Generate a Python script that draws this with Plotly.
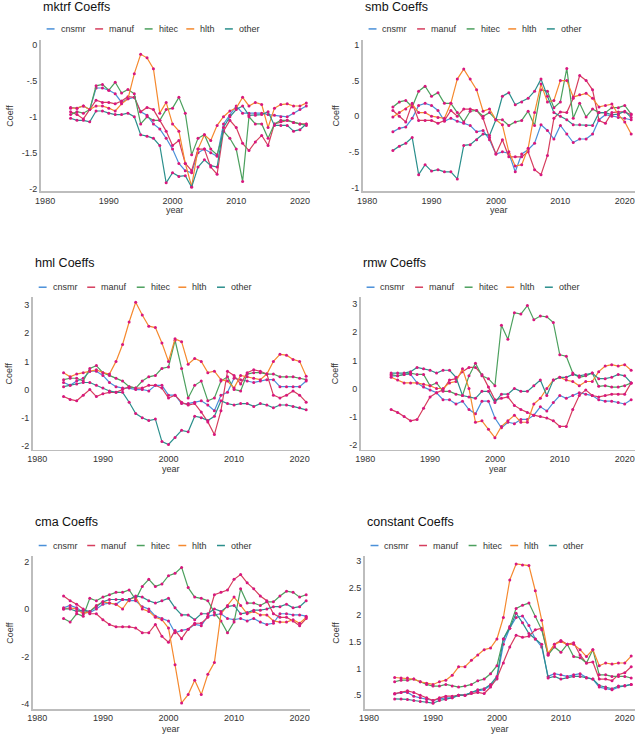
import plotly.graph_objects as go

# ---------------- data ----------------
years = [1984, 1985, 1986, 1987, 1988, 1989, 1990, 1991, 1992, 1993,
         1994, 1995, 1996, 1997, 1998, 1999, 2000, 2001, 2002, 2003,
         2004, 2005, 2006, 2007, 2008, 2009, 2010, 2011, 2012, 2013,
         2014, 2015, 2016, 2017, 2018, 2019, 2020, 2021]
series_names = ["cnsmr", "manuf", "hitec", "hlth", "other"]

mktrf_cnsmr = [-0.87, -0.88, -0.85, -0.90, -0.60, -0.60, -0.63, -0.68, -0.80, -0.75,
               -0.73, -0.93, -0.98, -1.10, -1.17, -1.30, -1.45, -1.65, -1.75, -1.78,
               -1.50, -1.45, -1.50, -1.55, -1.10, -0.98, -0.85, -0.95, -0.95, -0.95,
               -0.95, -0.97, -0.98, -1.00, -1.00, -0.95, -0.90, -0.85]
mktrf_manuf = [-0.93, -0.97, -1.03, -0.90, -0.77, -0.80, -0.80, -0.82, -0.78, -0.72,
               -0.73, -0.93, -0.87, -0.90, -1.05, -1.20, -1.40, -1.33, -1.65, -1.75,
               -1.45, -1.45, -1.70, -1.80, -1.20, -1.05, -1.15, -1.37, -1.47, -1.35,
               -1.26, -1.40, -1.10, -1.07, -1.05, -1.08, -1.10, -1.10]
mktrf_hitec = [-0.97, -0.93, -0.95, -0.90, -0.57, -0.55, -0.63, -0.52, -0.67, -0.62,
               -0.68, -1.10, -1.00, -1.05, -1.05, -0.90, -0.88, -0.73, -0.95, -1.53,
               -1.30, -1.25, -1.45, -1.53, -1.20, -1.30, -1.45, -1.90, -1.00, -1.10,
               -1.10, -1.30, -1.10, -1.05, -1.05, -1.08, -1.10, -1.12]
mktrf_hlth = [-0.88, -0.88, -0.85, -0.90, -0.85, -0.85, -0.88, -0.92, -0.82, -0.75,
              -0.40, -0.13, -0.18, -0.33, -0.95, -0.80, -1.10, -1.20, -1.65, -1.97,
              -1.45, -1.25, -1.33, -1.12, -1.00, -0.92, -0.88, -0.73, -0.85, -0.80,
              -0.83, -1.15, -0.88, -0.83, -0.82, -0.85, -0.85, -0.81]
mktrf_other = [-1.02, -1.05, -1.05, -1.07, -0.92, -0.92, -0.95, -0.97, -0.97, -0.95,
               -1.00, -1.25, -1.27, -1.30, -1.40, -1.92, -1.78, -1.83, -1.82, -1.98,
               -1.70, -1.60, -1.68, -1.70, -1.15, -1.00, -0.90, -0.85, -0.98, -0.98,
               -0.97, -0.93, -1.12, -1.12, -1.12, -1.20, -1.18, -1.10]

smb_cnsmr = [-0.22, -0.17, -0.15, -0.03, 0.15, 0.18, 0.15, 0.08, -0.07, -0.03,
             -0.07, -0.10, -0.13, -0.22, -0.20, -0.33, -0.53, -0.50, -0.52, -0.78,
             -0.53, -0.47, -0.38, -0.12, -0.20, -0.32, -0.13, -0.25, -0.37, -0.32,
             -0.32, -0.25, -0.05, 0.02, 0.00, -0.02, -0.03, -0.05]
smb_manuf = [0.08, 0.00, -0.08, 0.18, -0.06, -0.06, -0.06, -0.10, -0.06, 0.08,
             0.00, 0.10, 0.10, 0.08, -0.03, -0.30, -0.53, -0.33, -0.57, -0.57,
             -0.57, -0.50, -0.75, -0.82, -0.55, -0.03, 0.06, 0.05, 0.25, 0.57,
             0.50, 0.37, -0.06, -0.10, 0.05, 0.06, 0.06, 0.02]
smb_hitec = [0.13, 0.20, 0.22, 0.13, 0.35, 0.42, 0.28, 0.33, 0.18, 0.18,
             0.05, -0.08, 0.07, 0.08, 0.00, 0.05, -0.05, -0.05, -0.13, -0.08,
             -0.06, 0.07, -0.13, 0.37, 0.35, 0.12, 0.20, 0.67, -0.03, 0.18,
             -0.01, 0.10, 0.05, 0.05, 0.12, 0.12, 0.15, 0.03]
smb_hlth = [-0.01, 0.05, 0.10, 0.17, 0.05, 0.05, 0.00, -0.02, -0.03, 0.18,
            0.52, 0.66, 0.52, 0.37, 0.07, 0.10, -0.05, -0.12, -0.50, -0.70,
            -0.68, -0.45, 0.05, 0.45, 0.20, 0.22, 0.50, 0.50, 0.27, 0.30,
            0.32, 0.25, 0.13, 0.15, 0.17, 0.02, -0.08, -0.25]
smb_other = [-0.48, -0.42, -0.38, -0.30, -0.82, -0.68, -0.77, -0.75, -0.78, -0.78,
             -0.88, -0.41, -0.40, -0.33, -0.25, -0.27, -0.05, 0.28, 0.33, 0.16,
             0.20, 0.25, 0.35, 0.52, 0.28, 0.05, 0.00, -0.05, -0.12, -0.12,
             -0.13, -0.13, 0.05, 0.05, 0.02, 0.03, 0.07, -0.02]

hml_cnsmr = [0.25, 0.15, 0.30, 0.40, 0.65, 0.65, 0.50, 0.25, 0.10, 0.05,
             0.05, 0.00, 0.00, -0.05, 0.15, 0.15, -0.20, -0.20, -0.50, -0.50,
             -0.45, -0.40, -0.55, -0.75, -0.20, -0.10, 0.40, 0.35, 0.30, 0.25,
             0.30, 0.35, 0.35, 0.10, 0.10, 0.10, 0.10, 0.30]
hml_manuf = [-0.25, -0.35, -0.40, -0.20, 0.00, -0.25, -0.15, -0.10, -0.10, 0.00,
             0.10, 0.05, 0.05, 0.15, 0.15, 0.05, -0.30, -0.20, -0.45, -0.55,
             -0.50, -0.80, -1.15, -1.60, -0.75, 0.65, 0.50, 0.20, 0.60, 0.70,
             0.65, 0.55, -0.20, -0.30, -0.20, -0.05, -0.20, -0.45]
hml_hitec = [0.35, 0.40, 0.40, 0.30, 0.75, 0.85, 0.60, 0.50, 0.40, 0.30,
             0.10, 0.05, 0.30, 0.45, 0.50, 0.75, 0.80, 1.75, 0.75, -0.30,
             0.15, 0.30, -0.40, -0.30, 0.30, 0.45, 0.00, -0.05, 0.55, 0.60,
             0.60, 0.55, 0.55, 0.45, 0.45, 0.45, 0.40, 0.35]
hml_hlth = [0.60, 0.45, 0.55, 0.60, 0.65, 0.70, 0.60, 0.55, 1.00, 1.60,
            2.40, 3.10, 2.65, 2.25, 2.20, 1.65, 1.00, 1.80, 1.70, 0.90,
            1.10, 1.00, 0.60, 0.65, 0.35, 0.30, 0.05, 0.50, 0.45, 0.40,
            0.35, 0.55, 1.00, 1.25, 1.22, 1.07, 1.00, 0.47]
hml_other = [0.10, 0.15, 0.20, 0.25, 0.25, 0.15, 0.05, -0.05, -0.10, -0.10,
             -0.45, -0.85, -1.00, -1.10, -1.05, -1.85, -1.95, -1.70, -1.45, -1.50,
             -0.95, -1.00, -1.10, -0.95, -0.40, -0.50, -0.55, -0.50, -0.50, -0.60,
             -0.50, -0.55, -0.65, -0.55, -0.55, -0.60, -0.65, -0.72]

rmw_cnsmr = [0.45, 0.45, 0.50, 0.50, 0.20, 0.05, -0.05, -0.15, -0.40, -0.40,
             -0.55, -0.45, -0.75, -0.90, -0.45, -0.45, -1.05, -1.40, -1.20, -1.25,
             -1.10, -1.10, -0.95, -0.65, -0.80, -0.50, -0.25, -0.35, -0.25, -0.15,
             -0.20, -0.25, -0.40, -0.45, -0.45, -0.50, -0.55, -0.40]
rmw_manuf = [-0.75, -0.85, -1.00, -1.15, -1.10, -0.70, -0.30, -0.15, -0.05, 0.30,
             0.35, 0.60, 0.75, 0.75, 0.50, 0.05, -0.40, -0.35, -0.30, -0.60,
             -0.75, -0.85, -0.95, -1.00, -1.05, -1.15, -1.35, -1.35, -0.75, -0.25,
             -0.05, -0.25, -0.30, -0.25, -0.20, -0.20, -0.20, 0.20]
rmw_hitec = [0.50, 0.45, 0.50, 0.55, 0.50, 0.50, 0.10, 0.20, -0.10, -0.10,
             -0.20, -0.25, 0.45, 0.90, 0.45, 0.35, 0.10, 2.25, 1.75, 2.70,
             2.65, 2.95, 2.45, 2.58, 2.55, 2.35, 1.20, 1.15, 0.55, 0.40,
             0.45, 0.55, 0.08, 0.10, 0.05, 0.05, 0.10, 0.20]
rmw_hlth = [0.40, 0.30, 0.20, 0.20, 0.20, 0.15, 0.10, 0.00, 0.00, 0.20,
            0.25, 0.70, 0.00, -1.20, -1.15, -1.45, -1.75, -1.35, -1.15, -0.95,
            -1.20, -1.20, -0.55, -0.35, 0.00, 0.30, 0.40, 0.30, 0.25, 0.10,
            0.25, 0.25, 0.60, 0.80, 0.85, 0.80, 0.85, 0.65]
rmw_other = [0.55, 0.55, 0.55, 0.60, 0.75, 0.70, 0.65, 0.55, 0.65, 0.65,
             0.40, -0.25, -0.30, -0.35, -0.10, -0.10, -0.50, -0.20, -0.20, 0.00,
             -0.10, -0.10, 0.10, 0.30, -0.25, 0.30, 0.40, 0.40, 0.50, 0.45,
             0.50, 0.55, 0.35, 0.35, 0.40, 0.50, 0.45, 0.20]

cma_cnsmr = [0.05, 0.15, 0.05, -0.15, -0.15, 0.00, 0.20, 0.25, 0.20, 0.40,
             0.35, 0.35, 0.10, 0.00, -0.30, -0.40, -0.50, -1.00, -0.90, -0.85,
             -0.65, -0.70, -0.30, -0.25, -0.20, -0.40, -0.45, -0.40, -0.50, -0.40,
             -0.55, -0.65, -0.60, -0.20, -0.20, -0.25, -0.25, -0.30]
cma_manuf = [0.55, 0.35, 0.20, 0.00, -0.20, -0.20, -0.45, -0.65, -0.75, -0.75,
             -0.75, -0.80, -1.00, -1.00, -0.65, -1.15, -1.40, -0.90, -1.25, -0.85,
             -0.60, -0.60, -0.35, 0.60, 0.70, 0.80, 1.25, 1.45, 1.10, 0.85,
             0.55, 0.35, -0.20, -0.35, -0.35, -0.50, -0.70, -0.40]
cma_hitec = [-0.40, -0.55, -0.20, -0.30, 0.45, 0.35, 0.50, 0.60, 0.70, 0.70,
             0.80, 0.40, 0.95, 1.25, 0.95, 1.05, 1.40, 1.50, 1.75, 0.90,
             0.50, 0.45, 0.35, -0.15, -0.50, -1.00, -0.55, 0.85, 0.25, 0.25,
             0.15, 0.30, 0.30, 0.55, 0.75, 0.70, 0.50, 0.60]
cma_hlth = [0.00, 0.05, 0.00, -0.20, -0.10, 0.15, 0.30, 0.25, 0.20, 0.00,
            0.40, 0.50, 0.00, -0.10, -0.35, -0.45, -0.80, -2.35, -3.95, -3.60,
            -3.00, -3.60, -2.75, -2.25, -0.20, 0.15, 0.50, 0.15, -0.20, -0.10,
            -0.25, -0.25, -0.50, -0.55, -0.55, -0.45, -0.60, -0.35]
cma_other = [0.00, 0.00, -0.10, -0.05, -0.10, 0.10, 0.30, 0.40, 0.40, 0.40,
             0.40, 0.55, 0.50, 0.35, 0.25, 0.35, 0.45, 0.05, -0.25, -0.25,
             -0.45, -0.20, -0.20, 0.00, -0.10, 0.10, 0.15, -0.20, -0.15, -0.05,
             -0.05, 0.00, 0.10, 0.10, 0.20, 0.05, 0.10, 0.35]

constant_cnsmr = [0.52, 0.55, 0.55, 0.48, 0.45, 0.42, 0.40, 0.43, 0.45, 0.45,
                  0.50, 0.50, 0.55, 0.58, 0.60, 0.68, 0.80, 1.45, 1.75, 1.95,
                  1.98, 1.80, 1.55, 1.40, 0.85, 0.90, 0.88, 0.85, 0.88, 0.90,
                  0.83, 0.80, 0.65, 0.62, 0.60, 0.65, 0.68, 0.70]
constant_manuf = [0.53, 0.55, 0.58, 0.55, 0.50, 0.45, 0.40, 0.45, 0.48, 0.48,
                  0.50, 0.50, 0.53, 0.55, 0.53, 0.65, 0.82, 1.10, 1.40, 1.62,
                  1.58, 1.60, 1.72, 1.75, 1.25, 1.45, 1.52, 1.45, 1.48, 1.25,
                  1.10, 1.12, 0.80, 0.80, 0.77, 0.88, 0.92, 1.03]
constant_hitec = [0.75, 0.78, 0.78, 0.80, 0.75, 0.70, 0.67, 0.67, 0.70, 0.67,
                  0.65, 0.67, 0.70, 0.77, 0.80, 0.90, 1.05, 1.55, 1.78, 2.12,
                  2.18, 2.22, 1.97, 1.72, 1.25, 1.40, 1.30, 1.45, 1.22, 1.20,
                  1.10, 1.35, 0.88, 0.88, 0.85, 0.85, 0.85, 0.82]
constant_hlth = [0.83, 0.82, 0.82, 0.80, 0.75, 0.72, 0.70, 0.75, 0.78, 0.87,
                 1.03, 1.03, 1.15, 1.25, 1.35, 1.38, 1.55, 1.95, 2.65, 2.95,
                 2.93, 2.92, 2.45, 1.90, 1.28, 1.45, 1.50, 1.45, 1.45, 1.35,
                 1.22, 1.35, 1.05, 1.10, 1.08, 1.10, 1.10, 1.23]
constant_other = [0.43, 0.43, 0.42, 0.40, 0.38, 0.37, 0.35, 0.40, 0.42, 0.45,
                  0.50, 0.50, 0.55, 0.60, 0.62, 0.70, 0.85, 1.55, 1.75, 2.03,
                  1.85, 1.65, 1.55, 1.45, 0.82, 0.85, 0.80, 0.83, 0.85, 0.85,
                  0.82, 0.80, 0.68, 0.65, 0.62, 0.67, 0.67, 0.70]

panel_titles = ["mktrf Coeffs", "smb Coeffs", "hml Coeffs",
                "rmw Coeffs", "cma Coeffs", "constant Coeffs"]
x_tickvals = [1980, 1990, 2000, 2010, 2020]
mktrf_tickvals = [0, -0.5, -1, -1.5, -2]
mktrf_ticktext = ["0", "-.5", "-1", "-1.5", "-2"]
smb_tickvals = [1, 0.5, 0, -0.5, -1]
smb_ticktext = ["1", ".5", "0", "-.5", "-1"]
hml_tickvals = [3, 2, 1, 0, -1, -2]
hml_ticktext = ["3", "2", "1", "0", "-1", "-2"]
rmw_tickvals = [3, 2, 1, 0, -1, -2]
rmw_ticktext = ["3", "2", "1", "0", "-1", "-2"]
cma_tickvals = [2, 0, -2, -4]
cma_ticktext = ["2", "0", "-2", "-4"]
constant_tickvals = [3, 2.5, 2, 1.5, 1, 0.5]
constant_ticktext = ["3", "2.5", "2", "1.5", "1", ".5"]

panels = [
    ([mktrf_cnsmr, mktrf_manuf, mktrf_hitec, mktrf_hlth, mktrf_other], mktrf_tickvals, mktrf_ticktext),
    ([smb_cnsmr, smb_manuf, smb_hitec, smb_hlth, smb_other], smb_tickvals, smb_ticktext),
    ([hml_cnsmr, hml_manuf, hml_hitec, hml_hlth, hml_other], hml_tickvals, hml_ticktext),
    ([rmw_cnsmr, rmw_manuf, rmw_hitec, rmw_hlth, rmw_other], rmw_tickvals, rmw_ticktext),
    ([cma_cnsmr, cma_manuf, cma_hitec, cma_hlth, cma_other], cma_tickvals, cma_ticktext),
    ([constant_cnsmr, constant_manuf, constant_hitec, constant_hlth, constant_other],
     constant_tickvals, constant_ticktext),
]

# ---------------- styling / layout ----------------
W, H = 640, 736
FONT = "Liberation Sans, Arial, sans-serif"
line_colors = ["#4A90D9", "#D63E5E", "#4CA05E", "#F5892E", "#2B8F8C"]
marker_color = "#D8177E"
axis_color = "#BDBDBD"
text_color = "#333333"

# plot boxes in pixels: left, right, top, bottom
boxes = [(35, 307, 40, 192), (360, 635, 40, 192),
         (27, 307, 298, 451), (358, 635, 298, 451),
         (27, 307, 558, 711), (362, 635, 558, 711)]
yranges = [[-2.04, 0.07], [-1.056, 1.07], [-2.14, 3.28],
           [-2.18, 3.25], [-4.21, 2.21], [0.24, 3.09]]
xrange_ = [1979.3, 2021.6]
title_y = [7, 7, 264, 264, 523, 523]
legend_y = [29, 29, 288, 288, 547, 547]
year_y = [211, 211, 470, 470, 731, 731]
coeff_x = [4, 333, 4, 333, 4, 333]
legend_offsets = [6, 55, 105, 147, 186]

fig = go.Figure()
annotations = []
shapes = []
layout_axes = {}

def px_x(p):
    return p / W

def px_y(p):
    return 1 - p / H

for i, (series, tv, tt) in enumerate(panels):
    n = i + 1
    xa = "x" if n == 1 else f"x{n}"
    ya = "y" if n == 1 else f"y{n}"
    for k, vals in enumerate(series):
        fig.add_trace(go.Scatter(
            x=years, y=vals, mode="lines+markers", name=series_names[k],
            xaxis=xa, yaxis=ya, showlegend=False,
            line=dict(color=line_colors[k], width=1.2),
            marker=dict(color=marker_color, size=3),
        ))
    l, r, t, b = boxes[i]
    xkey = "xaxis" if n == 1 else f"xaxis{n}"
    ykey = "yaxis" if n == 1 else f"yaxis{n}"
    layout_axes[xkey] = dict(
        domain=[px_x(l), px_x(r)], anchor=ya, range=xrange_,
        showline=True, linecolor=axis_color, linewidth=1.6,
        showgrid=False, zeroline=False, ticks="",
        tickvals=x_tickvals, tickfont=dict(size=9, color=text_color, family=FONT),
    )
    layout_axes[ykey] = dict(
        domain=[px_y(b), px_y(t)], anchor=xa, range=yranges[i],
        showline=True, linecolor=axis_color, linewidth=1.6,
        showgrid=False, zeroline=False, ticks="",
        tickvals=tv, ticktext=tt, tickfont=dict(size=9, color=text_color, family=FONT),
    )
    # panel title
    annotations.append(dict(
        text=panel_titles[i], x=px_x(l), y=px_y(title_y[i]), xref="paper", yref="paper",
        xanchor="left", yanchor="middle", showarrow=False,
        font=dict(size=12.5, color="#111111", family=FONT)))
    # legend
    for k, name in enumerate(series_names):
        x0 = l + legend_offsets[k]
        shapes.append(dict(type="line", xref="paper", yref="paper",
                           x0=px_x(x0), x1=px_x(x0 + 8),
                           y0=px_y(legend_y[i]), y1=px_y(legend_y[i]),
                           line=dict(color=line_colors[k], width=1.5)))
        annotations.append(dict(
            text=name, x=px_x(x0 + 12), y=px_y(legend_y[i]), xref="paper", yref="paper",
            xanchor="left", yanchor="middle", showarrow=False,
            font=dict(size=9, color=text_color, family=FONT)))
    # axis titles
    annotations.append(dict(
        text="year", x=px_x((l + r) / 2), y=px_y(year_y[i]), xref="paper", yref="paper",
        xanchor="center", yanchor="middle", showarrow=False,
        font=dict(size=9, color=text_color, family=FONT)))
    annotations.append(dict(
        text="Coeff", x=px_x(coeff_x[i]), y=px_y((t + b) / 2), xref="paper", yref="paper",
        xanchor="center", yanchor="middle", showarrow=False, textangle=-90,
        font=dict(size=9, color=text_color, family=FONT)))

fig.update_layout(
    width=W, height=H, autosize=False,
    margin=dict(l=0, r=0, t=0, b=0),
    paper_bgcolor="white", plot_bgcolor="white",
    font=dict(family=FONT, color=text_color),
    annotations=annotations, shapes=shapes,
    hovermode=False,
    **layout_axes,
)

fig.write_html("out.html",
               config={"displayModeBar": False, "staticPlot": True},
               post_script="document.body.style.margin='0';document.body.style.overflow='hidden';")
